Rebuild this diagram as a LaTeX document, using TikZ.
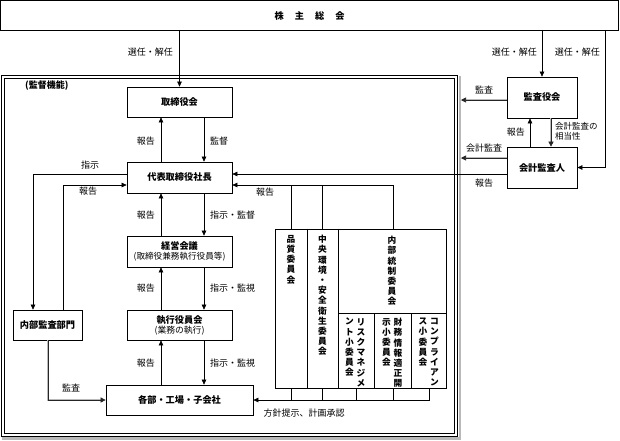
\documentclass[tikz,border=0pt]{standalone}
\usepackage{fontspec}
\setmainfont{Noto Sans CJK JP}
\usetikzlibrary{arrows.meta}
\begin{document}
\begin{tikzpicture}[x=1pt,y=-1pt,
  box/.style={draw, line width=0.7pt, inner sep=1pt, align=center, font=\fontsize{9.2}{11}\selectfont\bfseries},
  lbl/.style={inner sep=1pt, font=\fontsize{9}{10}\selectfont},
  vtx/.style={inner sep=0pt, align=center, anchor=north, font=\fontsize{8.7}{10.2}\selectfont\bfseries},
  ln/.style={line width=0.6pt},
  arr/.style={line width=0.6pt, -{Triangle[length=5pt,width=4.5pt]}},
  garr/.style={line width=0.6pt, draw=gray!30!black, -{Triangle[length=5pt,width=5pt]},
     preaction={draw, gray!55, line width=2.6pt, -, shorten >=4pt}}]
\useasboundingbox (0,0) rectangle (620,440);
% level coordinates
\coordinate (y100) at (0,100);
\coordinate (y158) at (0,158);
\coordinate (y174) at (0,174);
\coordinate (y185) at (0,185);
\coordinate (y313) at (0,313);
\coordinate (y400) at (0,400);
\foreach \xx in {33,48,63,291,307,322,338,356,374,393,411,429,461,530,551,605}
  {\coordinate (x\xx) at (\xx,0);}
% top box
\node[box, minimum width=618pt, minimum height=30pt] (soukai) at (309.6,15.6)
  {株\hspace{11pt}主\hspace{11pt}総\hspace{11pt}会};
% frame
\draw[gray!55, line width=2.6pt] (460,76) -- (460,438.4) -- (2,438.4);
\draw[line width=0.6pt] (1.5,75.5) rectangle (457.5,436.5);
\draw[line width=0.6pt] (4.5,78.5) rectangle (454.5,433.5);
\node[lbl, anchor=west, font=\fontsize{9}{10}\selectfont\bfseries] (kantoku) at (24,86) {(監督機能)};
% boxes
\node[box, minimum width=105pt, minimum height=30pt] (tori) at (179.5,102) {取締役会};
\node[box, minimum width=105pt, minimum height=31pt] (shacho) at (179.5,177.5) {代表取締役社長};
\node[box, minimum width=105pt, minimum height=31pt] (keiei) at (179.5,251.5)
  {経営会議\\[-1pt]{\mdseries\fontsize{8.6}{10}\selectfont (取締役兼務執行役員等)}};
\node[box, minimum width=105pt, minimum height=30pt] (shikkou) at (179.5,325)
  {執行役員会\\[-1pt]{\mdseries\fontsize{8.8}{10}\selectfont (業務の執行)}};
\node[box, minimum width=147pt, minimum height=30pt] (kakubu) at (179.5,400) {各部・工場・子会社};
\node[box, minimum width=69pt, minimum height=30pt] (naibu) at (47.5,325) {内部監査部門};
\node[box, minimum width=70pt, minimum height=41pt] (kansa) at (542,97.5) {監査役会};
\node[box, minimum width=70pt, minimum height=41pt] (kaikei) at (542,167.5) {会計監査人};
% committees
\node[draw, line width=0.7pt, minimum width=171pt, minimum height=159pt, inner sep=0pt] (com) at (360.5,308.5) {};
\draw[ln] (x307 |- com.north) -- (x307 |- com.south);
\draw[ln] (x338 |- com.north) -- (x338 |- com.south);
\draw[ln] (x338 |- y313) -- (com.east |- y313);
\draw[ln] (x374 |- y313) -- (x374 |- com.south);
\draw[ln] (x411 |- y313) -- (x411 |- com.south);
\node[vtx] (hinshitsu) at (291,235) {品\\質\\委\\員\\会};
\node[vtx] (chuou) at (322.5,235) {中\\央\\環\\境\\・\\安\\全\\衛\\生\\委\\員\\会};
\node[vtx] (naibutousei) at (392,236) {内\\部\\統\\制\\委\\員\\会};
\node[vtx] (risk1) at (361,318) {リ\\ス\\ク\\マ\\ネ\\ジ\\メ};
\node[vtx] (risk2) at (349.5,318) {ン\\ト\\小\\委\\員\\会};
\node[vtx] (zaimu1) at (398,318) {財\\務\\情\\報\\適\\正\\開};
\node[vtx] (zaimu2) at (386.5,318) {示\\小\\委\\員\\会};
\node[vtx] (comp1) at (434.5,318) {コ\\ン\\プ\\ラ\\イ\\ア\\ン};
\node[vtx] (comp2) at (423,318) {ス\\小\\委\\員\\会};
% shareholders connectors
\draw[arr] (soukai.south -| tori.north) -- (tori.north);
\node[lbl, anchor=east] (l1) at (174,52) {選任・解任};
\draw[arr] (soukai.south -| kansa.north) -- (kansa.north);
\node[lbl, anchor=east] (l2) at (538,52) {選任・解任};
\draw[arr] (soukai.south -| x605) -- (x605 |- kaikei.east) -- (kaikei.east);
\node[lbl, anchor=east] (l3) at (601,52) {選任・解任};
% board <-> president
\draw[arr] ([xshift=-18.5pt]shacho.north) -- ([xshift=-18.5pt]tori.south);
\node[lbl, anchor=east] (l4) at (156,141) {報告};
\draw[arr] ([xshift=24.5pt]tori.south) -- ([xshift=24.5pt]shacho.north);
\node[lbl, anchor=west] (l5) at (209,141) {監督};
% president <-> management meeting
\draw[arr] ([xshift=-18.5pt]keiei.north) -- ([xshift=-18.5pt]shacho.south);
\node[lbl, anchor=east] (l6) at (156,215) {報告};
\draw[arr] ([xshift=24.5pt]shacho.south) -- ([xshift=24.5pt]keiei.north);
\node[lbl, anchor=west] (l7) at (209,215) {指示・監督};
% management meeting <-> executive officers
\draw[arr] ([xshift=-18.5pt]shikkou.north) -- ([xshift=-18.5pt]keiei.south);
\node[lbl, anchor=east] (l8) at (156,288) {報告};
\draw[arr] ([xshift=24.5pt]keiei.south) -- ([xshift=24.5pt]shikkou.north);
\node[lbl, anchor=west] (l9) at (209,288) {指示・監視};
% executive officers <-> departments
\draw[arr] ([xshift=-18.5pt]kakubu.north) -- ([xshift=-18.5pt]shikkou.south);
\node[lbl, anchor=east] (l10) at (156,363) {報告};
\draw[arr] ([xshift=24.5pt]shikkou.south) -- ([xshift=24.5pt]kakubu.north);
\node[lbl, anchor=west] (l11) at (209,363) {指示・監視};
% internal audit
\draw[arr] (shacho.west |- y174) -- (x33 |- y174) -- (x33 |- naibu.north);
\node[lbl] (l12) at (90,165) {指示};
\draw[arr] (x63 |- naibu.north) -- (x63 |- y185) -- (shacho.west |- y185);
\node[lbl] (l13) at (88,191) {報告};
\draw[garr] (x48 |- naibu.south) -- (x48 |- kakubu.west) -- (kakubu.west);
\node[lbl] (l14) at (71,388) {監査};
% right side
\draw[arr] (kaikei.west |- y174) -- (shacho.east |- y174);
\node[lbl] (l15) at (484,183) {報告};
\draw[arr] (x393 |- com.north) -- (x393 |- y185) -- (shacho.east |- y185);
\draw[ln] (x291 |- com.north) -- (x291 |- y185);
\draw[ln] (x322 |- com.north) -- (x322 |- y185);
\node[lbl] (l16) at (265,192) {報告};
% committees -> departments
\foreach \xx in {291,322,356,393} {\draw[ln] (x\xx |- com.south) -- (x\xx |- y400);}
\draw[arr] (x429 |- com.south) -- (x429 |- y400) -- (kakubu.east);
\node[lbl] (l17) at (304,413) {方針提示、計画承認};
% audit board / accounting auditor
\draw[garr] (kansa.west |- y100) -- (x461 |- y100);
\node[lbl] (l18) at (484,90) {監査};
\draw[garr] (kaikei.west |- y158) -- (x461 |- y158);
\node[lbl] (l19) at (484,148) {会計監査};
\draw[arr] (x530 |- kaikei.north) -- (x530 |- kansa.south);
\node[lbl, anchor=east] (l20) at (526,132) {報告};
\draw[garr] (x551 |- kansa.south) -- (x551 |- kaikei.north);
\node[lbl, anchor=north west, align=left, font=\fontsize{8.5}{10.5}\selectfont] (l21) at (554,121) {会計監査の\\相当性};
\end{tikzpicture}
\end{document}
